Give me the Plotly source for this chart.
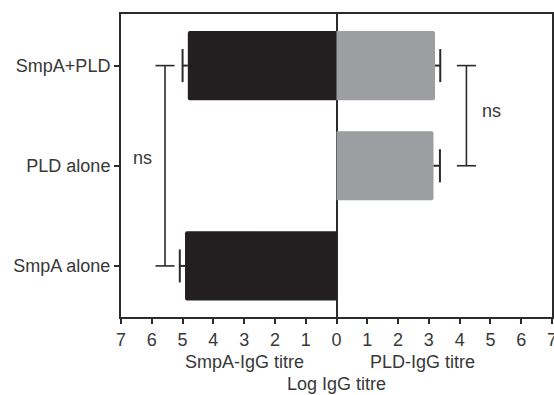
import plotly.graph_objects as go

categories = ["SmpA alone", "PLD alone", "SmpA+PLD"]
smpa_igg = [4.92, None, 4.83]
smpa_err = [0.17, None, 0.17]
pld_igg = [None, 3.15, 3.2]
pld_err = [None, 0.21, 0.17]
x_tick_vals = [-7, -6, -5, -4, -3, -2, -1, 0, 1, 2, 3, 4, 5, 6, 7]
x_tick_text = ["7", "6", "5", "4", "3", "2", "1", "0", "1", "2", "3", "4", "5", "6", "7"]

BLACK = "#231f20"
GRAY = "#9d9ea1"
LINE = "#2b2b2b"
TEXT = "#383838"
FONT = "Liberation Sans, Arial, sans-serif"
CAP = 0.165

pos = list(range(len(categories)))

fig = go.Figure()

neg = [(-v if v is not None else None) for v in smpa_igg]
fig.add_trace(go.Bar(y=pos, x=neg, orientation="h", marker=dict(color=BLACK, line=dict(width=0), cornerradius=2),
                     width=0.69, showlegend=False))
fig.add_trace(go.Bar(y=pos, x=pld_igg, orientation="h", marker=dict(color=GRAY, line=dict(width=0), cornerradius=2),
                     width=0.69, showlegend=False))

# error bars (one-sided, outward)
ex, ey = [], []
for i in pos:
    if smpa_igg[i] is not None:
        a = -smpa_igg[i]
        b = -(smpa_igg[i] + smpa_err[i])
        ex += [a, b, None, b, b, None]
        ey += [i, i, None, i - CAP, i + CAP, None]
    if pld_igg[i] is not None:
        a = pld_igg[i]
        b = pld_igg[i] + pld_err[i]
        ex += [a, b, None, b, b, None]
        ey += [i, i, None, i - CAP, i + CAP, None]
fig.add_trace(go.Scatter(x=ex, y=ey, mode="lines", line=dict(color=LINE, width=2), showlegend=False,
                         hoverinfo="skip"))

# significance brackets
def bracket(xc, y0, y1, half=0.31):
    return ([xc - half, xc + half, None, xc, xc, None, xc - half, xc + half, None],
            [y0, y0, None, y0, y1, None, y1, y1, None])

bx1, by1 = bracket(-5.57, 0, 2)
bx2, by2 = bracket(4.22, 1, 2)
fig.add_trace(go.Scatter(x=bx1 + bx2, y=by1 + by2, mode="lines", line=dict(color=LINE, width=1.6),
                         showlegend=False, hoverinfo="skip"))

fig.add_annotation(x=-6.29, y=1.08, text="ns", showarrow=False, font=dict(size=18, color=TEXT, family=FONT))
fig.add_annotation(x=5.04, y=1.55, text="ns", showarrow=False, font=dict(size=18, color=TEXT, family=FONT))

fig.add_annotation(x=-3.0, y=-0.149, yref="paper", text="SmpA-IgG titre", showarrow=False,
                   font=dict(size=18, color=TEXT, family=FONT), yanchor="middle")
fig.add_annotation(x=2.78, y=-0.149, yref="paper", text="PLD-IgG titre", showarrow=False,
                   font=dict(size=18, color=TEXT, family=FONT), yanchor="middle")
fig.add_annotation(x=0, y=-0.222, yref="paper", text="Log IgG titre", showarrow=False,
                   font=dict(size=18, color=TEXT, family=FONT), yanchor="middle")

fig.update_layout(
    width=554, height=395,
    margin=dict(l=121, r=2, t=14, b=78),
    paper_bgcolor="white", plot_bgcolor="white",
    barmode="overlay",
    font=dict(family=FONT, size=18, color=TEXT),
    xaxis=dict(range=[-7, 7], tickvals=x_tick_vals, ticktext=x_tick_text, showgrid=False,
               zeroline=True, zerolinecolor=LINE, zerolinewidth=2,
               showline=True, linecolor=LINE, linewidth=2, mirror=True,
               ticks="outside", ticklen=5, tickwidth=2, tickcolor=LINE,
               ticklabeloverflow="allow", automargin=False,
               tickfont=dict(size=18, color=TEXT)),
    yaxis=dict(range=[-0.51, 2.515], tickvals=pos, ticktext=categories, showgrid=False, zeroline=False,
               showline=True, linecolor=LINE, linewidth=2, mirror=True, automargin=False,
               ticks="outside", ticklen=5, tickwidth=2, tickcolor=LINE,
               tickfont=dict(size=18, color=TEXT)),
)

fig.write_html("out.html")
